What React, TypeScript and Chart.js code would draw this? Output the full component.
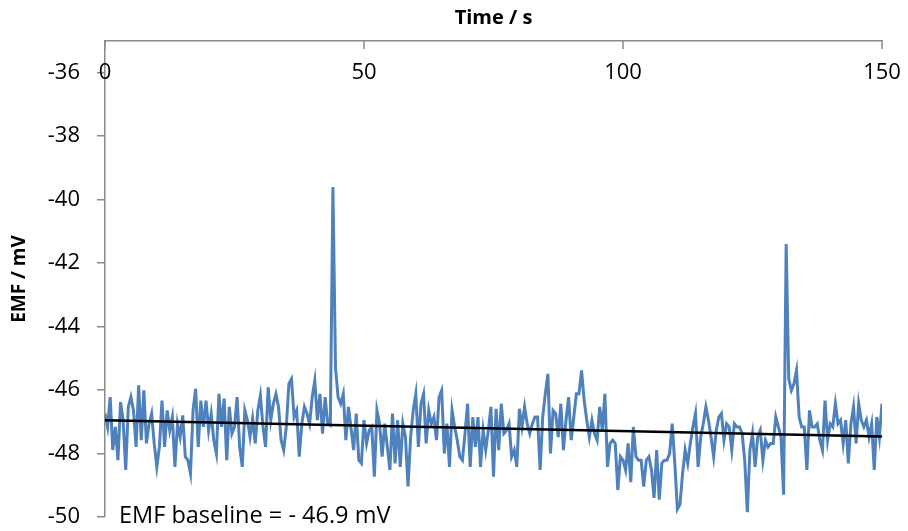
import React, { useEffect, useRef } from "react";
import { Chart, registerables } from "chart.js";

Chart.register(...registerables);

// Sampling step of the EMF trace (s)
const timeStep = 0.5;

// EMF readings (mV), 0.5 s apart
const emf0to30 = [
  -46.74, -47.16, -46.22, -47.89, -47.16, -48.21, -46.38, -46.95, -48.52, -46.53,
  -46.22, -46.64, -47.79, -45.85, -47.58, -46.01, -47.68, -47.06, -46.74, -47.68,
  -48.42, -47.79, -46.33, -47.79, -46.64, -47.27, -46.85, -48.42, -47.06, -47.48,
  -46.8, -48.1, -48.21, -48.63, -46.64, -45.96, -47.79, -46.33, -47.16, -46.33,
  -47.27, -46.74, -47.58, -48.0, -46.12, -47.16, -46.27, -48.21, -46.53, -47.37,
  -47.16, -46.22, -47.79, -48.42, -46.64, -46.95, -47.48, -46.9, -47.68, -46.64,
];
const emf30to60 = [
  -46.17, -47.16, -47.79, -45.91, -46.95, -46.43, -46.12, -46.53, -47.58, -47.89,
  -47.16, -45.8, -45.65, -46.85, -46.64, -48.1, -47.06, -46.53, -46.74, -47.06,
  -46.22, -45.7, -46.95, -46.12, -47.37, -46.22, -47.06, -47.11, -39.6, -45.3,
  -46.22, -46.43, -46.12, -47.58, -46.53, -47.21, -47.89, -46.74, -48.21, -48.31,
  -46.95, -47.68, -47.27, -47.16, -48.73, -46.64, -47.06, -48.1, -47.06, -47.79,
  -48.52, -46.74, -48.31, -46.95, -48.42, -47.06, -47.48, -49.04, -47.48, -46.64,
];
const emf60to90 = [
  -46.12, -47.79, -46.43, -46.12, -47.68, -46.64, -47.06, -46.85, -47.58, -46.22,
  -46.01, -48.0, -47.06, -48.42, -46.64, -47.16, -47.58, -48.1, -48.21, -47.37,
  -46.43, -48.42, -46.85, -47.79, -46.85, -48.42, -47.27, -47.89, -47.27, -46.53,
  -48.73, -46.59, -47.89, -46.43, -47.37, -47.27, -47.06, -48.1, -47.89, -48.42,
  -46.59, -47.16, -46.53, -47.06, -47.37, -47.06, -46.85, -46.85, -48.52, -46.85,
  -46.12, -45.49, -48.0, -46.64, -46.74, -47.48, -46.43, -47.89, -46.95, -46.22,
];
const emf90to120 = [
  -47.58, -46.85, -46.12, -46.12, -45.38, -46.33, -46.95, -47.48, -46.95, -47.37,
  -47.58, -46.53, -47.27, -46.12, -48.42, -47.68, -47.58, -47.68, -49.15, -48.1,
  -48.21, -48.52, -47.68, -48.9, -47.16, -48.1, -48.21, -48.21, -49.04, -48.21,
  -48.1, -48.52, -49.4, -47.89, -49.45, -48.3, -48.21, -48.21, -48.0, -47.06,
  -48.31, -49.75, -49.6, -48.63, -47.89, -48.31, -47.68, -47.16, -46.74, -48.42,
  -47.48, -47.06, -46.53, -46.95, -47.48, -48.1, -47.27, -46.85, -46.74, -47.58,
];
const emf120to150 = [
  -47.06, -47.16, -47.89, -47.06, -47.16, -47.16, -47.37, -48.21, -49.85, -47.89,
  -47.37, -48.42, -47.48, -47.27, -48.21, -47.58, -47.79, -47.68, -47.68, -46.85,
  -47.16, -47.48, -49.3, -41.4, -45.65, -46.01, -45.8, -45.38, -46.85, -47.16,
  -47.16, -48.52, -46.64, -47.16, -47.16, -47.06, -47.58, -47.89, -46.33, -47.58,
  -47.06, -47.16, -46.43, -47.06, -46.95, -47.68, -46.95, -48.31, -47.06, -46.53,
  -47.68, -46.43, -46.95, -47.16, -46.95, -47.48, -47.06, -48.52, -46.85, -47.48,
  -46.43,
];
const emfValues = [...emf0to30, ...emf30to60, ...emf60to90, ...emf90to120, ...emf120to150];

// Baseline trend line end points
const trendTimes = [0, 150];
const trendValues = [-46.95, -47.46];

// Axis ticks
const xTickValues = [0, 50, 100, 150];
const yTickValues = [-50, -48, -46, -44, -42, -40, -38, -36];

const xTitle = "Time / s";
const yTitle = "EMF / mV";
const annotationText = "EMF baseline = - 46.9 mV";

const FONT = "'Open Sans', 'Liberation Sans', sans-serif";
const AXIS_COLOR = "#8a8a8a";

export default function App() {
  const canvasRef = useRef<HTMLCanvasElement | null>(null);

  useEffect(() => {
    document.body.style.margin = "0";
    const canvas = canvasRef.current;
    if (!canvas) return;

    const emfPoints = emfValues.map((v, i) => ({ x: i * timeStep, y: v }));
    const trendPoints = trendTimes.map((t, i) => ({ x: t, y: trendValues[i] }));

    const overlay = {
      id: "overlay",
      afterDraw(chart: any) {
        const { ctx, chartArea, scales } = chart;
        const xs = scales.x;
        ctx.save();
        ctx.strokeStyle = AXIS_COLOR;
        ctx.lineWidth = 1.5;
        ctx.fillStyle = "#000";
        ctx.font = `22px ${FONT}`;
        ctx.textAlign = "center";
        ctx.textBaseline = "middle";
        xTickValues.forEach((v) => {
          const px = xs.getPixelForValue(v);
          ctx.beginPath();
          ctx.moveTo(px, chartArea.top);
          ctx.lineTo(px, chartArea.top + 8);
          ctx.stroke();
          ctx.fillText(String(v), px, chartArea.top + 32);
        });
        ctx.textAlign = "left";
        ctx.font = `23.5px ${FONT}`;
        ctx.fillText(annotationText, chartArea.left + 14, chartArea.bottom - 1);
        ctx.restore();
      },
    };

    const chart = new Chart(canvas, {
      type: "line",
      data: {
        datasets: [
          {
            label: "Baseline",
            data: trendPoints,
            borderColor: "#000000",
            borderWidth: 2.5,
            pointRadius: 0,
            tension: 0,
          },
          {
            label: "EMF",
            data: emfPoints,
            borderColor: "#4F81BD",
            borderWidth: 3,
            pointRadius: 0,
            tension: 0,
          },
        ],
      },
      options: {
        responsive: false,
        animation: false,
        layout: { padding: { left: 0, right: 26, top: 0, bottom: 14 } },
        plugins: {
          legend: { display: false },
          tooltip: { enabled: false },
        },
        scales: {
          x: {
            type: "linear",
            position: "top",
            min: 0,
            max: 150,
            afterBuildTicks: (scale: any) => {
              scale.ticks = xTickValues.map((v) => ({ value: v }));
            },
            afterFit: (scale: any) => {
              scale.height = 41;
              scale.paddingLeft = 0;
              scale.paddingRight = 0;
            },
            ticks: { display: false },
            grid: { display: true, drawOnChartArea: false, drawTicks: false },
            border: { display: true, color: AXIS_COLOR, width: 1.5 },
            title: {
              display: true,
              text: xTitle,
              color: "#000",
              font: { family: FONT, size: 20, weight: "bold" },
              padding: { top: 6, bottom: 0 },
            },
          },
          y: {
            type: "linear",
            position: "left",
            min: -50,
            max: -35,
            afterBuildTicks: (scale: any) => {
              scale.ticks = yTickValues.map((v) => ({ value: v }));
            },
            afterFit: (scale: any) => {
              scale.width = 105;
              scale.paddingTop = 0;
              scale.paddingBottom = 0;
            },
            ticks: {
              color: "#000",
              padding: 17,
              font: { family: FONT, size: 22 },
              callback: (v: any) => String(v),
            },
            grid: {
              display: true,
              drawOnChartArea: false,
              drawTicks: true,
              tickLength: 8,
              color: AXIS_COLOR,
              lineWidth: 1.5,
            },
            border: { display: true, color: AXIS_COLOR, width: 1.5 },
            title: {
              display: true,
              text: yTitle,
              color: "#000",
              font: { family: FONT, size: 19, weight: "bold" },
              padding: { top: 8, bottom: 0 },
            },
          },
        },
      },
      plugins: [overlay],
    });

    return () => chart.destroy();
  }, []);

  return (
    <div style={{ width: 908, height: 531 }}>
      <canvas ref={canvasRef} width={908} height={531} />
    </div>
  );
}
